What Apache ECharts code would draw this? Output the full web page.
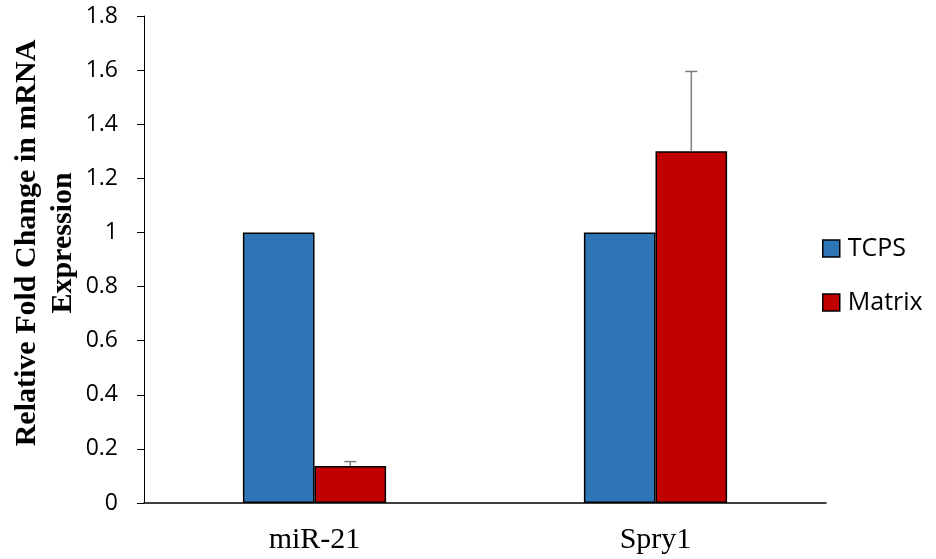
<!DOCTYPE html>
<html><head><meta charset="utf-8">
<script src="https://cdn.jsdelivr.net/npm/echarts@6/dist/echarts.min.js"></script>
<style>html,body{margin:0;padding:0;background:#fff}#c{width:936px;height:559px}</style>
</head><body><div id="c"></div>
<script>
const categories = ['miR-21', 'Spry1'];
const seriesNames = ['TCPS', 'Matrix'];
const tcps = [1.0, 1.0];
const matrix = [0.137, 1.30];
const matrixErr = [0.016, 0.295];
const yTicks = [0, 0.2, 0.4, 0.6, 0.8, 1, 1.2, 1.4, 1.6, 1.8];
const yTitle = 'Relative Fold Change in mRNA\nExpression';

const chart = echarts.init(document.getElementById('c'));
const errData = categories.map((c, i) => [i, matrix[i], matrix[i] + matrixErr[i]]);
chart.setOption({
  animation: false,
  grid: {left: 144, right: 110, top: 16, bottom: 56, outerBoundsMode: 'none', containLabel: false},
  graphic: [{
    type: 'text', x: 45, y: 243, rotation: Math.PI / 2,
    style: {text: yTitle, fontFamily: 'Liberation Serif', fontWeight: 'bold', fontSize: 30,
      lineHeight: 36, fill: '#000', align: 'center', verticalAlign: 'middle'}
  }],
  legend: {
    orient: 'vertical', left: 817, top: 231, itemGap: 29,
    itemWidth: 17, itemHeight: 17, icon: 'rect',
    itemStyle: {borderColor: '#000', borderWidth: 1.5},
    textStyle: {fontFamily: 'Open Sans', fontSize: 25, color: '#000', padding: [0, 0, 0, 3]},
    data: seriesNames
  },
  xAxis: {
    type: 'category', data: categories,
    axisLine: {lineStyle: {color: '#000', width: 1.5}},
    axisTick: {show: false},
    axisLabel: {fontFamily: 'Liberation Serif', fontSize: 30, color: '#000', margin: 22}
  },
  yAxis: {
    type: 'value', min: 0, max: 1.8, interval: 0.2,
    splitLine: {show: false},
    axisLine: {show: true, lineStyle: {color: '#000', width: 1}},
    axisTick: {show: true, length: 7, lineStyle: {color: '#000'}},
    axisLabel: {fontFamily: 'Open Sans', fontSize: 23, color: '#000', margin: 26,
      formatter: v => String(+v.toFixed(1))}
  },
  series: [
    {name: 'TCPS', type: 'bar', data: tcps, barGap: '0%', barCategoryGap: '58%',
      itemStyle: {color: '#2E75B6', borderColor: '#000', borderWidth: 1.5}},
    {name: 'Matrix', type: 'bar', data: matrix,
      itemStyle: {color: '#C00000', borderColor: '#000', borderWidth: 1.5}},
    {type: 'custom', name: 'err', data: errData, z: 10,
      renderItem: function (params, api) {
        const i = api.value(0);
        const lo = api.coord([i, api.value(1)]);
        const hi = api.coord([i, api.value(2)]);
        const bw = api.size([1, 0])[0];
        const cx = lo[0] + bw * 0.21 / 2;
        const style = {stroke: '#7f7f7f', lineWidth: 1.5};
        return {type: 'group', children: [
          {type: 'line', shape: {x1: cx, y1: lo[1], x2: cx, y2: hi[1]}, style: style},
          {type: 'line', shape: {x1: cx - 6, y1: hi[1], x2: cx + 6, y2: hi[1]}, style: style}
        ]};
      }}
  ]
});
</script></body></html>
